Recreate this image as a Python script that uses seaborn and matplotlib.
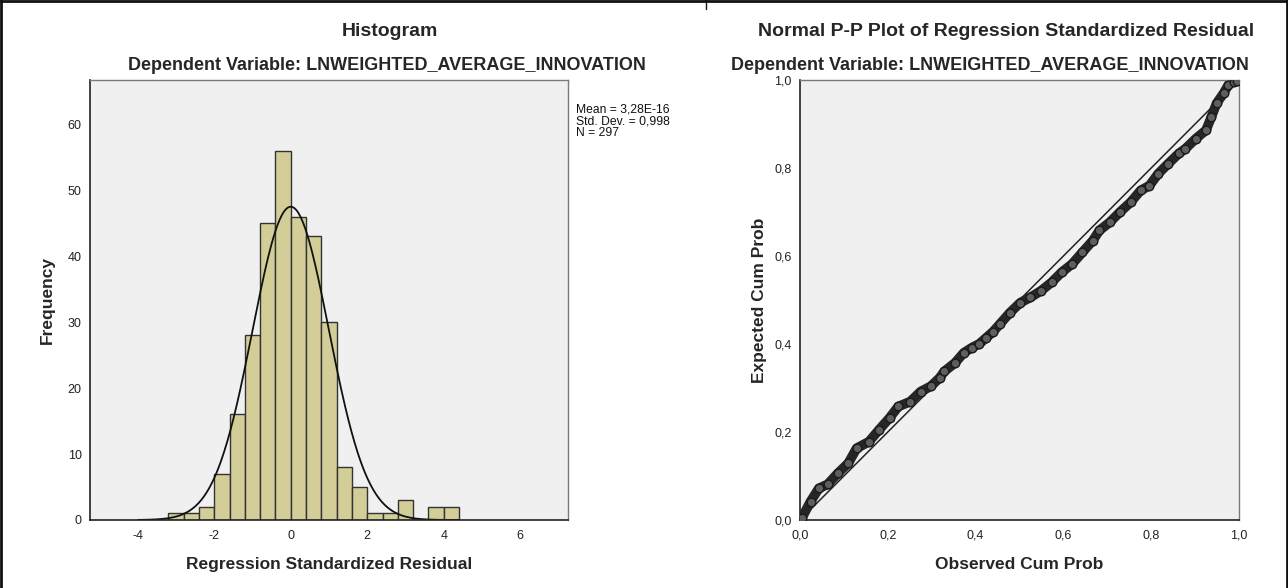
import numpy as np
import pandas as pd
import matplotlib
matplotlib.use("Agg")
import matplotlib.pyplot as plt
from matplotlib.lines import Line2D
import seaborn as sns

# ---- histogram of standardized residuals ----
bin_edges = [-3.2, -2.8, -2.4, -2.0, -1.6, -1.2, -0.8, -0.4, 0.0, 0.4,
             0.8, 1.2, 1.6, 2.0, 2.4, 2.8, 3.2, 3.6, 4.0, 4.4]
bin_counts = [1, 1, 2, 7, 16, 28, 45, 56, 46, 43, 30, 8, 5, 1, 1, 3, 0, 2, 2]
resid_mean = 3.28e-16
resid_sd = 0.998
n_cases = 297
hist_xticks = [-4, -2, 0, 2, 4, 6]
hist_yticks = [0, 10, 20, 30, 40, 50, 60]

# ---- normal P-P plot ----
observed_cum = [0.004, 0.024, 0.043, 0.063, 0.086, 0.110, 0.129, 0.157, 0.180,
                0.204, 0.224, 0.251, 0.275, 0.298, 0.318, 0.329, 0.353, 0.373,
                0.392, 0.408, 0.424, 0.440, 0.455, 0.478, 0.502, 0.525, 0.549,
                0.573, 0.596, 0.620, 0.643, 0.667, 0.682, 0.706, 0.729, 0.753,
                0.776, 0.796, 0.816, 0.839, 0.863, 0.878, 0.902, 0.925, 0.937,
                0.949, 0.965, 0.976, 0.988, 0.996]
expected_cum = [0.004, 0.042, 0.072, 0.081, 0.106, 0.129, 0.163, 0.178, 0.205,
                0.232, 0.258, 0.269, 0.292, 0.304, 0.323, 0.338, 0.357, 0.380,
                0.392, 0.400, 0.414, 0.428, 0.445, 0.471, 0.494, 0.506, 0.521,
                0.540, 0.563, 0.582, 0.608, 0.635, 0.658, 0.677, 0.700, 0.722,
                0.749, 0.760, 0.787, 0.810, 0.833, 0.844, 0.867, 0.886, 0.916,
                0.947, 0.970, 0.989, 0.996, 0.998]
pp_ticks = [0.0, 0.2, 0.4, 0.6, 0.8, 1.0]

dep_var = "Dependent Variable: LNWEIGHTED_AVERAGE_INNOVATION"

sns.set_style("white")
plt.rcParams["font.family"] = ["Liberation Sans", "DejaVu Sans"]

W, H = 1288, 588
fig = plt.figure(figsize=(W / 100, H / 100), dpi=100)
fig.patch.set_facecolor("white")

def fx(px):
    return px / W

def fy(py):
    return 1 - py / H

ax1 = fig.add_axes([fx(90), fy(520), fx(568) - fx(90), fy(80) - fy(520)])
ax2 = fig.add_axes([fx(800), fy(520), fx(1239) - fx(800), fy(80) - fy(520)])

bg = "#f0f0f0"
bar_face = "#d3ce97"

# histogram
centers = [(a + b) / 2 for a, b in zip(bin_edges[:-1], bin_edges[1:])]
sns.histplot(x=centers, weights=bin_counts, bins=bin_edges, ax=ax1,
             color=bar_face, edgecolor="#333333", linewidth=1.0, alpha=1.0)

# fitted normal curve
bin_w = bin_edges[1] - bin_edges[0]
xs = np.linspace(-4.0, 4.4, 300)
ys = n_cases * bin_w / (resid_sd * np.sqrt(2 * np.pi)) * np.exp(-0.5 * ((xs - resid_mean) / resid_sd) ** 2)
sns.lineplot(x=xs, y=ys, ax=ax1, color="#111111", linewidth=1.3)

ax1.set_xlim(-5.25, 7.25)
ax1.set_ylim(0, 66.7)
ax1.set_xticks(hist_xticks)
ax1.set_xticklabels([str(t) for t in hist_xticks])
ax1.set_yticks(hist_yticks)
ax1.set_yticklabels([str(t) for t in hist_yticks])
ax1.set_xlabel("Regression Standardized Residual", fontsize=12.5, fontweight="bold", labelpad=11)
ax1.set_ylabel("Frequency", fontsize=12.5, fontweight="bold", labelpad=9)

# P-P plot
sns.lineplot(x=[0, 1], y=[0, 1], ax=ax2, color="#222222", linewidth=1.1)
pp_df = pd.DataFrame({"obs": observed_cum, "exp": expected_cum})
sns.lineplot(data=pp_df, x="obs", y="exp", ax=ax2, color="#262626",
             linewidth=7, sort=False)
sns.scatterplot(data=pp_df, x="obs", y="exp", ax=ax2, s=38, marker="o",
                facecolor="#5e5e5e", edgecolor="#1a1a1a", linewidth=1.0, zorder=4)
ax2.set_xlim(0, 1)
ax2.set_ylim(0, 1)
ax2.set_xticks(pp_ticks)
ax2.set_yticks(pp_ticks)
ax2.set_xticklabels([f"{t:.1f}".replace(".", ",") for t in pp_ticks])
ax2.set_yticklabels([f"{t:.1f}".replace(".", ",") for t in pp_ticks])
ax2.set_xlabel("Observed Cum Prob", fontsize=12.5, fontweight="bold", labelpad=11)
ax2.set_ylabel("Expected Cum Prob", fontsize=12.5, fontweight="bold", labelpad=5)

for ax in (ax1, ax2):
    ax.set_facecolor(bg)
    ax.tick_params(axis="both", which="both", direction="out", length=4,
                   width=1, colors="#222222", labelsize=9, pad=2)
    ax.tick_params(axis="x", length=5)
    for side in ("left", "bottom"):
        ax.spines[side].set_color("#222222")
        ax.spines[side].set_linewidth(1.2)
    for side in ("top", "right"):
        ax.spines[side].set_visible(True)
        ax.spines[side].set_color("#7a7a7a")
        ax.spines[side].set_linewidth(1.0)

# chart titles
fig.text(fx(390), fy(31), "Histogram", ha="center", va="center",
         fontsize=14, fontweight="bold")
fig.text(fx(387), fy(65), dep_var, ha="center", va="center",
         fontsize=13, fontweight="bold")
fig.text(fx(1006), fy(31), "Normal P-P Plot of Regression Standardized Residual",
         ha="center", va="center", fontsize=14, fontweight="bold")
fig.text(fx(990), fy(65), dep_var, ha="center", va="center",
         fontsize=13, fontweight="bold")

# distribution summary next to the histogram
fig.text(fx(576), fy(103), f"Mean = 3,28E-16\nStd. Dev. = 0,998\nN = {n_cases}",
         ha="left", va="top", fontsize=8.7, linespacing=1.0, color="#111111")

# outer frame
frame_kw = dict(color="#111111", linewidth=2, transform=fig.transFigure)
fig.add_artist(Line2D([0, 1], [fy(1), fy(1)], **frame_kw))
fig.add_artist(Line2D([fx(1), fx(1)], [0, 1], **frame_kw))
fig.add_artist(Line2D([fx(1287), fx(1287)], [0, 1], **frame_kw))
fig.add_artist(Line2D([fx(706), fx(706)], [fy(0), fy(9)], color="#111111",
                      linewidth=1, transform=fig.transFigure))

fig.savefig("out.png", dpi=100, facecolor="white")
